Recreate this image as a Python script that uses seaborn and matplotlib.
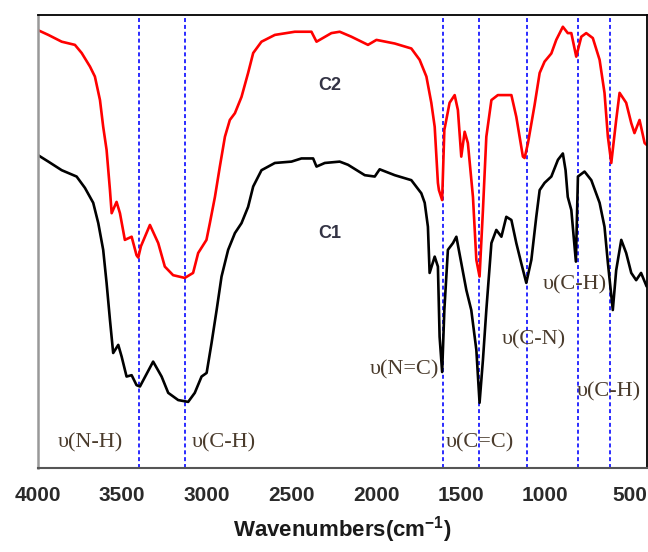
import numpy as np
import pandas as pd
import matplotlib
matplotlib.use("Agg")
import matplotlib.pyplot as plt
import seaborn as sns

# ---- data (wavenumber cm-1, relative transmittance) ----
c2_wn = [4000, 3936, 3857, 3779, 3739, 3690, 3661, 3631, 3612, 3592, 3572, 3562, 3533, 3513,
         3484, 3444, 3415, 3405, 3389, 3336, 3287, 3248, 3199, 3130, 3081, 3051, 3002, 2982,
         2952, 2923, 2893, 2864, 2834, 2795, 2756, 2726, 2677, 2598, 2480, 2382, 2352, 2315,
         2264, 2215, 2146, 2048, 1998, 1890, 1792, 1743, 1703, 1674, 1654, 1635, 1629, 1610,
         1597, 1566, 1536, 1517, 1497, 1477, 1458, 1428, 1408, 1389, 1369, 1349, 1319, 1281,
         1201, 1172, 1133, 1123, 1103, 1064, 1034, 1005, 965, 936, 897, 868, 847, 818, 788,
         759, 720, 680, 651, 631, 611, 582, 562, 523, 493, 474, 444, 414, 402]
c2_t = [96.7, 95.6, 94.1, 93.4, 91.6, 88.6, 86.4, 81.2, 75.3, 70.2, 61.3, 56.2, 58.7, 56.2,
        50.3, 51.0, 46.9, 46.4, 48.9, 53.6, 49.6, 44.4, 42.5, 41.9, 43.0, 47.4, 50.3, 54.0,
        59.8, 66.5, 73.1, 76.8, 78.3, 81.9, 87.2, 91.6, 94.1, 95.6, 96.3, 96.3, 94.1, 94.9,
        96.0, 96.3, 95.2, 93.4, 94.5, 93.7, 92.6, 90.1, 86.4, 80.6, 75.3, 62.9, 61.3, 59.1,
        74.6, 80.6, 82.3, 79.0, 68.7, 74.2, 71.7, 59.8, 45.9, 42.2, 56.9, 73.1, 81.2, 82.3,
        82.3, 77.5, 68.7, 68.4, 71.7, 80.1, 87.2, 89.7, 91.5, 94.5, 97.4, 96.0, 96.0, 90.8, 95.2,
        96.0, 94.9, 90.1, 82.8, 73.1, 67.3, 76.8, 82.8, 80.6, 76.1, 73.9, 76.8, 71.7, 71.3]

c1_wn = [4000, 3936, 3857, 3769, 3720, 3671, 3641, 3612, 3592, 3572, 3553, 3523, 3503, 3474,
         3444, 3415, 3395, 3317, 3267, 3228, 3169, 3110, 3071, 3031, 3001, 2972, 2942, 2913,
         2874, 2834, 2795, 2756, 2726, 2677, 2598, 2500, 2441, 2372, 2352, 2303, 2215, 2166,
         2067, 2008, 1979, 1890, 1792, 1733, 1713, 1694, 1684, 1654, 1635, 1625, 1610, 1597,
         1576, 1546, 1526, 1497, 1467, 1438, 1408, 1389, 1369, 1349, 1319, 1290, 1260, 1231,
         1201, 1172, 1143, 1113, 1083, 1054, 1034, 1005, 965, 926, 897, 881, 868, 847, 820,
         808, 769, 729, 680, 651, 631, 602, 582, 552, 523, 493, 464, 435, 402]
c1_t = [69.1, 67.6, 65.7, 64.3, 61.8, 58.5, 54.0, 48.1, 40.8, 32.6, 25.3, 27.1, 24.5, 20.1,
        20.4, 18.2, 17.9, 23.4, 20.1, 16.5, 14.9, 14.5, 16.5, 20.1, 20.9, 27.5, 34.8, 42.2,
        48.1, 51.8, 54.0, 57.6, 62.1, 65.7, 67.3, 67.6, 68.3, 68.3, 66.5, 67.3, 67.6, 66.9,
        64.6, 64.3, 65.9, 64.6, 63.5, 60.6, 58.5, 53.2, 43.0, 46.6, 44.4, 28.9, 21.1, 34.8,
        48.1, 49.6, 51.0, 45.2, 39.2, 34.8, 26.0, 14.3, 23.8, 34.8, 49.6, 52.5, 51.0, 55.4,
        54.7, 49.6, 45.2, 40.8, 45.9, 55.4, 61.3, 62.9, 64.3, 68.0, 69.4, 65.7, 59.8, 56.9, 45.5,
        64.3, 65.4, 63.5, 58.5, 53.2, 45.2, 34.8, 43.6, 50.3, 47.4, 43.0, 41.4, 43.0, 40.0]

band_wn = [3400, 3130, 1605, 1390, 1107, 806, 619]
x_ticks = [4000, 3500, 3000, 2500, 2000, 1500, 1000, 500]
series_names = ["C2", "C1"]
band_labels = ["υ(N-H)", "υ(C-H)", "υ(N=C)", "υ(C=C)", "υ(C-N)", "υ(C-H)", "υ(C-H)"]
label_pos = [(3690, 5.4), (2902, 5.4), (1831, 21.5), (1389, 5.4), (1070, 28.2),
             (828, 40.3), (627, 16.7)]
name_pos = [(2274, 84.5), (2274, 51.8)]

df = pd.concat([
    pd.DataFrame({"wn": c2_wn, "t": c2_t, "s": "C2"}),
    pd.DataFrame({"wn": c1_wn, "t": c1_t, "s": "C1"}),
], ignore_index=True)

sns.set_style("white")
plt.rcParams["mathtext.fontset"] = "custom"
plt.rcParams["mathtext.bf"] = "Liberation Sans:bold"
plt.rcParams["mathtext.rm"] = "Liberation Sans:bold"
plt.rcParams["mathtext.default"] = "bf"

fig = plt.figure(figsize=(6.48, 5.52), dpi=100)
ax = fig.add_axes([37.5 / 648, 84.5 / 552, 609.5 / 648, 452.5 / 552])

sns.lineplot(data=df, x="wn", y="t", hue="s", palette={"C2": "#ff0000", "C1": "#000000"},
             sort=False, estimator=None, linewidth=1.9, legend=False, ax=ax)

for b in band_wn:
    ax.axvline(b, color="#1a1aff", linewidth=1.3, linestyle=(0, (2.2, 1.6)), zorder=1)

ax.set_xlim(4000, 400)
ax.set_ylim(0, 100)
ax.set_yticks([])
ax.set_xticks(x_ticks)
ax.set_xticks(np.arange(3750, 400, -500), minor=True)
ax.tick_params(axis="x", which="major", direction="out", length=7, width=1.3,
               color="#444444", pad=6)
ax.tick_params(axis="x", which="minor", direction="out", length=4, width=1.3,
               color="#444444")
for lab in ax.get_xticklabels():
    lab.set_fontfamily("Liberation Sans")
    lab.set_fontweight("bold")
    lab.set_fontsize(15)
    lab.set_color("#2a2a2a")

ax.set_ylabel("")
ax.set_xlabel("Wavenumbers(cm$^{-1}$)", fontfamily="Liberation Sans", fontweight="bold",
              fontsize=16, color="#1a1a1a", labelpad=7)

ax.spines["left"].set_color("#999999")
ax.spines["left"].set_linewidth(1.8)
ax.spines["bottom"].set_color("#555555")
ax.spines["bottom"].set_linewidth(1.5)
ax.spines["top"].set_color("#000000")
ax.spines["top"].set_linewidth(1.3)
ax.spines["right"].set_color("#000000")
ax.spines["right"].set_linewidth(1.3)

for name, (x, y) in zip(series_names, name_pos):
    ax.text(x, y, name, ha="center", va="center", fontsize=13, fontweight="bold",
            fontfamily="Liberation Sans", color="#333344")

for lab, (x, y) in zip(band_labels, label_pos):
    ax.text(x, y, lab, ha="center", va="center", fontsize=16,
            family=["Liberation Serif", "DejaVu Serif"], color="#4a3b2c")

fig.savefig("out.png", dpi=100)
